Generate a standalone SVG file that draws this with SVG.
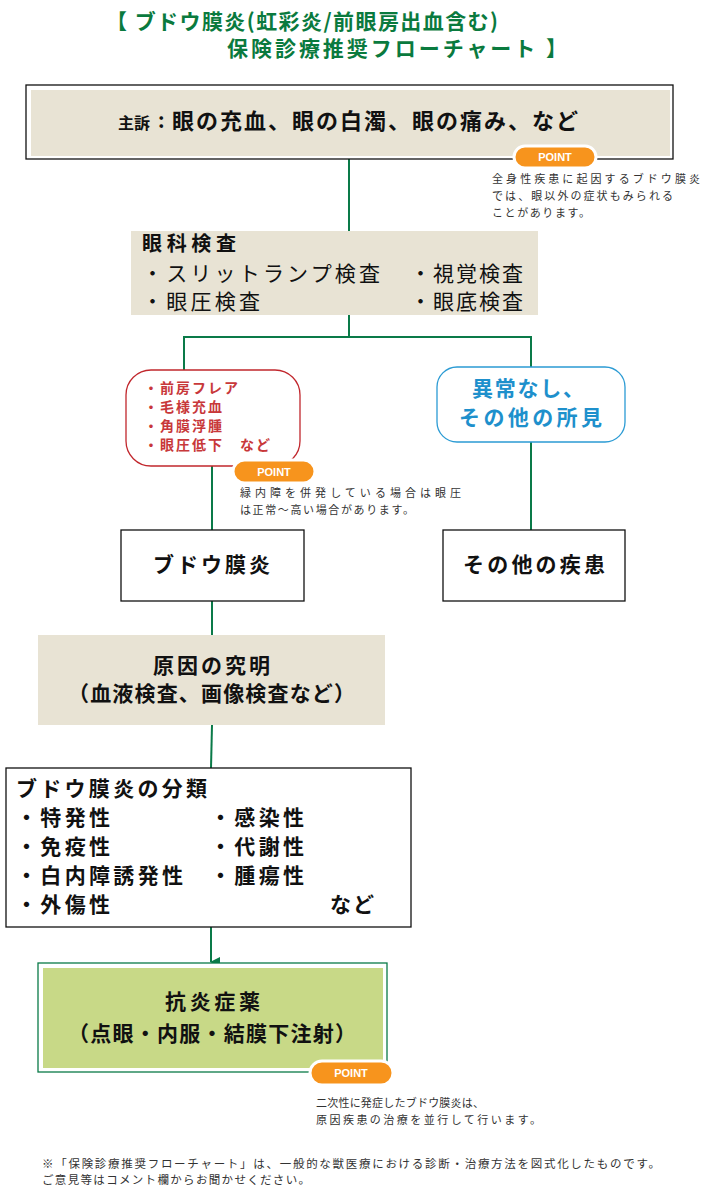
<svg xmlns="http://www.w3.org/2000/svg" width="709" height="1195" viewBox="0 0 709 1195">
<style>
text{font-family:"Noto Sans CJK JP","Noto Sans",sans-serif;}
.b{font-weight:bold;fill:#111;font-size:21px;}
.r{fill:#111;font-size:21px;}
.n{fill:#333;font-size:11px;}
.pt{fill:#fff;font-size:11px;font-weight:bold;font-family:"Liberation Sans",sans-serif;}
.pill{fill:#f7941d;stroke:#fff;stroke-width:3;}
.ln{stroke:#0a7a48;stroke-width:2;fill:none;}
.bx{fill:#fff;stroke:#111;stroke-width:1.3;}
.bg{fill:#e8e3d4;}
</style>
<defs><marker id="ar" markerWidth="10" markerHeight="10" refX="5" refY="9" orient="auto" markerUnits="userSpaceOnUse"><path d="M0,0 L10,0 L5,10 Z" fill="#0a7a48"/></marker></defs>
<rect width="709" height="1195" fill="#fff"/>
<g id="title" font-weight="bold" fill="#0a7a3e" font-size="21">
<text x="106" y="29" textLength="392">【 ブドウ膜炎(虹彩炎/前眼房出血含む)</text>
<text x="227" y="56" textLength="340">保険診療推奨フローチャート 】</text>
</g>
<g id="connectors">
<path class="ln" d="M349,159 V232"/>
<path class="ln" d="M349,315 V337 M184,370 V337 H531 V367"/>
<path class="ln" d="M212,466 V530"/>
<path class="ln" d="M531,442 V530"/>
<path class="ln" d="M212,601 V635"/>
<path class="ln" d="M212,725 L211,768"/>
<path class="ln" d="M211,927 V962" marker-end="url(#ar)"/>
</g>
<g id="n1">
<rect class="bx" x="26" y="85" width="647" height="74"/>
<rect class="bg" x="31" y="90" width="639" height="66"/>
<text class="b" x="118" y="129" style="font-size:16px">主訴</text>
<text class="b" x="158" y="128" style="font-size:20px">:</text>
<text class="b" x="172" y="129" style="font-size:22px" textLength="406">眼の充血、眼の白濁、眼の痛み、など</text>
<rect class="pill" x="514" y="146" width="82" height="22" rx="11"/>
<text class="pt" x="555" y="161" text-anchor="middle">POINT</text>
<text class="n" x="492" y="183" textLength="208">全身性疾患に起因するブドウ膜炎</text>
<text class="n" x="492" y="200" textLength="181">では、眼以外の症状もみられる</text>
<text class="n" x="492" y="217" textLength="98">ことがあります。</text>
</g>
<g id="n2">
<rect class="bg" x="131" y="231" width="407" height="84"/>
<text class="b" x="142" y="251" style="font-size:20px" textLength="94">眼科検査</text>
<text class="r" x="142" y="281" textLength="238">・スリットランプ検査</text>
<text class="r" x="410" y="281" textLength="113">・視覚検査</text>
<text class="r" x="142" y="309" textLength="118">・眼圧検査</text>
<text class="r" x="410" y="309" textLength="113">・眼底検査</text>
</g>
<g id="n3">
<rect x="126" y="370" width="174" height="96" rx="25" fill="#fff" stroke="#c1272d" stroke-width="1.3"/>
<g fill="#c8383a" font-weight="bold" font-size="14">
<text x="144" y="393" textLength="94">・前房フレア</text>
<text x="144" y="412" textLength="78">・毛様充血</text>
<text x="144" y="431" textLength="78">・角膜浮腫</text>
<text x="144" y="450" textLength="126">・眼圧低下　など</text>
</g>
<rect class="pill" x="233" y="460" width="82" height="23" rx="11.5"/>
<text class="pt" x="274" y="476" text-anchor="middle">POINT</text>
<text class="n" x="240" y="497" textLength="221">緑内障を併発している場合は眼圧</text>
<text class="n" x="240" y="514" textLength="174">は正常〜高い場合があります。</text>
</g>
<g id="n4">
<rect x="437" y="367" width="188" height="75" rx="20" fill="#fff" stroke="#2b9bd4" stroke-width="1.3"/>
<text x="472" y="396" font-weight="bold" font-size="21" fill="#1e90cc" textLength="112">異常なし、</text>
<text x="459" y="425" font-weight="bold" font-size="21" fill="#1e90cc" textLength="143">その他の所見</text>
</g>
<g id="n5">
<rect class="bx" x="121" y="530" width="183" height="71"/>
<text class="b" x="153" y="572" textLength="117">ブドウ膜炎</text>
</g>
<g id="n6">
<rect class="bx" x="443" y="530" width="182" height="71"/>
<text class="b" x="463" y="572" textLength="142">その他の疾患</text>
</g>
<g id="n7">
<rect class="bg" x="38" y="635" width="347" height="90"/>
<text class="b" x="153" y="673" textLength="117">原因の究明</text>
<text class="b" x="68" y="701" textLength="287">（血液検査、画像検査など）</text>
</g>
<g id="n8">
<rect class="bx" x="6" y="768" width="405" height="159"/>
<text class="b" x="16" y="796" textLength="191">ブドウ膜炎の分類</text>
<text class="b" x="16" y="825" textLength="94">・特発性</text>
<text class="b" x="210" y="825" textLength="94">・感染性</text>
<text class="b" x="16" y="854" textLength="94">・免疫性</text>
<text class="b" x="210" y="854" textLength="94">・代謝性</text>
<text class="b" x="16" y="883" textLength="167">・白内障誘発性</text>
<text class="b" x="210" y="883" textLength="94">・腫瘍性</text>
<text class="b" x="16" y="912" textLength="94">・外傷性</text>
<text class="b" x="330" y="912" textLength="44">など</text>
</g>
<g id="n9">
<rect x="38" y="963" width="349" height="109" fill="#fff" stroke="#0a7a48" stroke-width="1.3"/>
<rect x="43" y="968" width="340" height="100" fill="#c8d987"/>
<text class="b" x="165" y="1009" textLength="95">抗炎症薬</text>
<text class="b" x="68" y="1041" textLength="288">（点眼・内服・結膜下注射）</text>
<rect class="pill" x="310" y="1061" width="83" height="24" rx="12"/>
<text class="pt" x="351" y="1077" text-anchor="middle">POINT</text>
<text class="n" x="316" y="1107" textLength="168">二次性に発症したブドウ膜炎は、</text>
<text class="n" x="316" y="1124" textLength="225">原因疾患の治療を並行して行います。</text>
</g>
<g id="footer">
<text class="n" x="42" y="1168" style="font-size:11.5px" textLength="618">※「保険診療推奨フローチャート」は、一般的な獣医療における診断・治療方法を図式化したものです。</text>
<text class="n" x="42" y="1184" style="font-size:11.5px" textLength="268">ご意見等はコメント欄からお聞かせください。</text>
</g>
</svg>
